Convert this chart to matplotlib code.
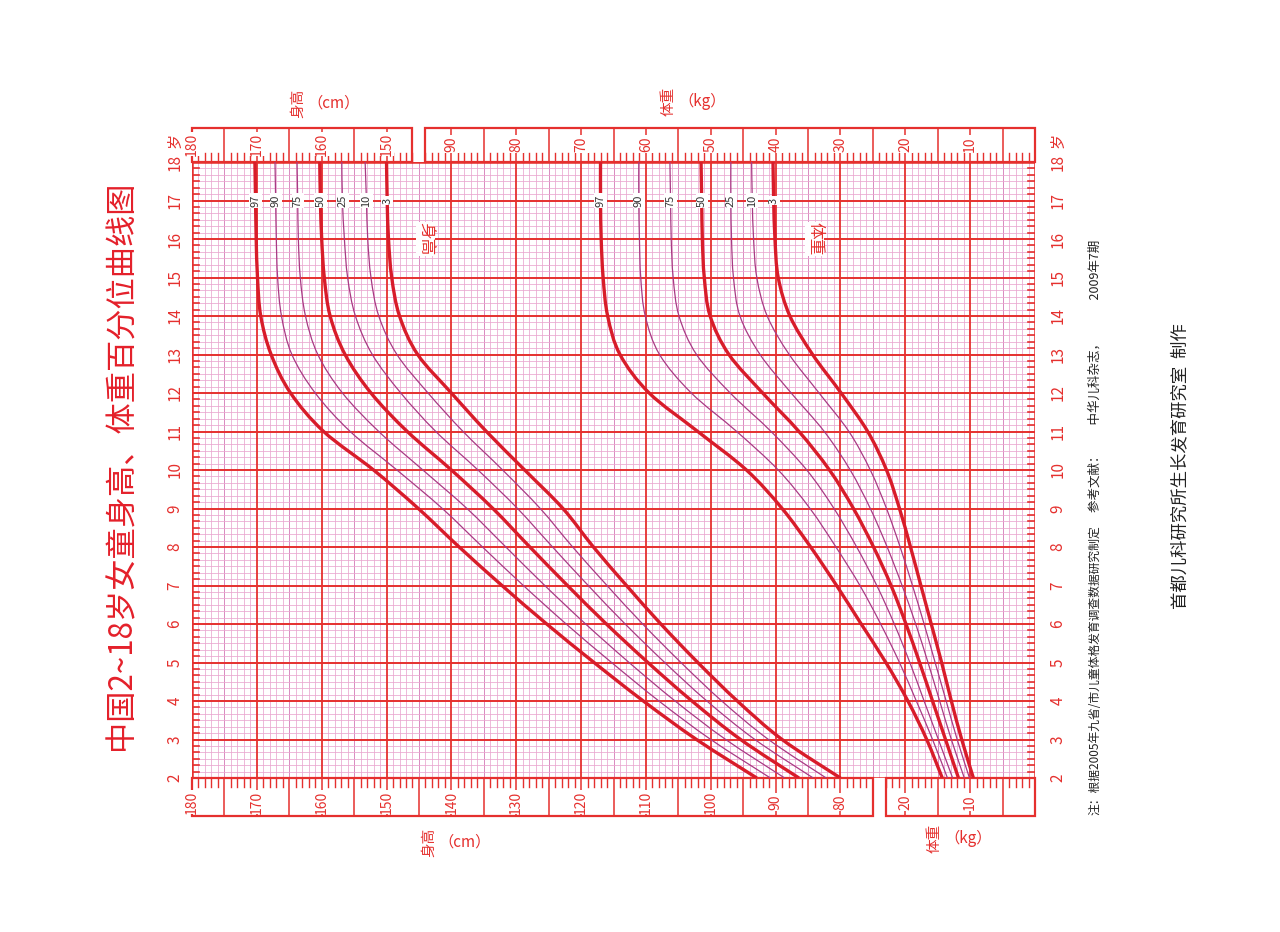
import numpy as np
import matplotlib.pyplot as plt
from matplotlib.path import Path
from matplotlib.patches import PathPatch, Rectangle

plt.rcParams['font.family'] = ['Noto Sans CJK SC', 'DejaVu Sans']

# ages on the vertical scale
ages = list(range(2, 19))
pct_names = ['3', '10', '25', '50', '75', '90', '97']

# height (cm), girls
height_p3 = [80.0, 89.0, 95.9, 102.0, 107.7, 113.0, 118.1, 122.8, 128.7, 134.6, 140.0, 145.2, 148.0, 149.2, 149.7, 149.9, 150.0]
height_p10 = [82.2, 91.1, 98.3, 104.6, 110.5, 116.0, 121.3, 126.3, 132.1, 138.2, 143.6, 148.4, 151.2, 152.4, 152.9, 153.1, 153.3]
height_p25 = [84.2, 93.2, 100.6, 107.1, 113.2, 118.9, 124.4, 129.8, 135.9, 142.4, 147.8, 152.2, 154.8, 156.0, 156.5, 156.8, 156.9]
height_p50 = [86.4, 95.4, 102.9, 109.7, 116.1, 122.1, 127.9, 133.6, 140.0, 146.8, 152.4, 156.4, 158.7, 159.6, 160.0, 160.2, 160.3]
height_p75 = [88.6, 97.7, 105.5, 112.6, 119.3, 125.6, 131.6, 137.6, 144.4, 151.2, 156.8, 160.6, 162.5, 163.3, 163.6, 163.7, 163.8]
height_p90 = [90.8, 100.0, 108.0, 115.3, 122.3, 128.9, 135.2, 141.4, 148.4, 155.6, 161.0, 164.6, 166.2, 166.8, 167.0, 167.1, 167.2]
height_p97 = [92.9, 102.2, 110.4, 118.0, 125.3, 132.2, 138.8, 145.1, 152.0, 159.7, 164.8, 167.8, 169.4, 169.9, 170.1, 170.2, 170.3]

# weight (kg), girls
weight_p3 = [9.5, 11.3, 12.9, 14.4, 16.0, 17.6, 19.2, 20.9, 22.9, 25.8, 29.9, 34.3, 37.8, 39.6, 40.1, 40.3, 40.4]
weight_p10 = [10.1, 12.0, 13.7, 15.4, 17.1, 18.9, 20.8, 22.9, 25.4, 28.7, 33.3, 37.9, 41.3, 42.9, 43.4, 43.6, 43.7]
weight_p25 = [10.9, 12.9, 14.7, 16.5, 18.4, 20.5, 22.8, 25.4, 28.5, 32.5, 37.6, 42.4, 45.5, 46.5, 46.8, 46.9, 46.9]
weight_p50 = [11.8, 13.8, 15.8, 17.8, 19.9, 22.2, 24.9, 28.0, 31.7, 36.4, 42.0, 47.2, 50.1, 51.0, 51.3, 51.4, 51.5]
weight_p75 = [12.7, 14.9, 17.1, 19.3, 21.7, 24.4, 27.5, 31.0, 35.2, 40.7, 47.0, 52.2, 54.9, 55.8, 56.1, 56.2, 56.3]
weight_p90 = [13.5, 15.8, 18.3, 20.9, 23.8, 27.0, 30.7, 34.7, 39.6, 46.0, 53.0, 57.9, 60.1, 60.8, 61.0, 61.1, 61.1]
weight_p97 = [14.3, 16.7, 19.6, 23.0, 26.8, 30.6, 34.6, 39.0, 44.5, 52.0, 59.5, 64.0, 65.9, 66.6, 66.9, 67.0, 67.0]

height_curves = [height_p3, height_p10, height_p25, height_p50, height_p75, height_p90, height_p97]
weight_curves = [weight_p3, weight_p10, weight_p25, weight_p50, weight_p75, weight_p90, weight_p97]

W_OFF = 50  # weight w shares the horizontal scale with height w + 50

RED = '#e5302e'
THICK = '#d81c2a'
THIN = '#a83a84'
MINOR = '#eaa6cf'
MID = '#d98ac0'


def smooth(xs, ys):
    # catmull-rom through the read points, drawn as bezier segments
    pts = np.column_stack([xs, ys])
    verts = [pts[0]]
    codes = [Path.MOVETO]
    n = len(pts)
    for i in range(n - 1):
        p0 = pts[max(i - 1, 0)]
        p1 = pts[i]
        p2 = pts[i + 1]
        p3 = pts[min(i + 2, n - 1)]
        verts += [p1 + (p2 - p0) / 6, p2 - (p3 - p1) / 6, p2]
        codes += [Path.CURVE4] * 3
    return Path(verts, codes)


fig = plt.figure(figsize=(12.8, 9.32), dpi=100)
L, R, T, B = 192, 1035, 162, 778
ax = fig.add_axes([L / 1280, 1 - B / 932, (R - L) / 1280, (B - T) / 932])
ax.set_xlim(180, 50)
ax.set_ylim(2, 18)
ax.axis('off')
axh = B - T
axw = R - L

# grid
for v in range(50, 181):
    if v % 10 == 0:
        continue
    ax.axvline(v, color=MID if v % 5 == 0 else MINOR, lw=0.7 if v % 5 == 0 else 0.55, zorder=1)
for k in range(1, 16 * 6):
    if k % 6:
        ax.axhline(2 + k / 6, color=MINOR, lw=0.55, zorder=1)
for v in range(60, 180, 10):
    ax.axvline(v, color=RED, lw=1.3, zorder=2)
for a in range(3, 18):
    ax.axhline(a, color=RED, lw=1.4, zorder=2)
ax.add_patch(Rectangle((180, 2), -130, 16, fill=False, ec=RED, lw=1.8, zorder=5))

# age ticks on the inner left and right edges
ty = ax.get_yaxis_transform()
for k in range(0, 16 * 6 + 1):
    a = 2 + k / 6
    ax.plot([0, 7 / axw], [a, a], color=RED, lw=1.2, transform=ty, zorder=5)
    ax.plot([1 - 7 / axw, 1], [a, a], color=RED, lw=1.2, transform=ty, zorder=5)
for a in ages:
    ax.text(-17 / axw, a, str(a), transform=ty, rotation=90, ha='center', va='center',
            fontsize=11, color=RED)
    ax.text(1 + 23 / axw, a, str(a), transform=ty, rotation=90, ha='center', va='center',
            fontsize=11, color=RED)
ax.text(-17 / axw, 18.55, '岁', transform=ty, rotation=90, ha='center', va='center', fontsize=11, color=RED)
ax.text(1 + 23 / axw, 18.55, '岁', transform=ty, rotation=90, ha='center', va='center', fontsize=11, color=RED)

# scale boxes above and below
tx = ax.get_xaxis_transform()
box_top = 34 / axh
box_bot = 38 / axh


def scale_box(x0, x1, y0, y1, labels, label_of, label_y, tick_from, tick_dir):
    ax.add_patch(Rectangle((x0, y0), x1 - x0, y1 - y0, transform=tx, fill=False,
                           ec=RED, lw=1.6, clip_on=False, zorder=5))
    lo, hi = sorted([x0, x1])
    for v in range(int(np.ceil(lo)), int(np.floor(hi)) + 1):
        if v % 5 == 0:
            ax.plot([v, v], [y0, y1], color=RED, lw=1.1, transform=tx, clip_on=False, zorder=5)
        else:
            ax.plot([v, v], [tick_from, tick_from + tick_dir * 9 / axh], color=RED, lw=1.0,
                    transform=tx, clip_on=False, zorder=5)
    for v in labels:
        ax.text(v, label_y, label_of(v), transform=tx, rotation=90, ha='center', va='center',
                fontsize=10, color=RED, clip_on=False, zorder=6,
                bbox=dict(facecolor='white', edgecolor='none', pad=0.6))


scale_box(180, 146, 1, 1 + box_top, range(180, 145, -10), str, 1 + 18 / axh, 1, 1)
scale_box(144, 50, 1, 1 + box_top, range(140, 59, -10), lambda v: str(v - W_OFF), 1 + 18 / axh, 1, 1)
scale_box(180, 75, -box_bot, 0, range(180, 79, -10), str, -24 / axh, 0, -1)
scale_box(73, 50, -box_bot, 0, [70, 60], lambda v: str(v - W_OFF), -24 / axh, 0, -1)

# percentile curves
for i, vals in enumerate(height_curves):
    heavy = pct_names[i] in ('3', '50', '97')
    ax.add_patch(PathPatch(smooth(vals, ages), fill=False, ec=THICK if heavy else THIN,
                           lw=2.4 if heavy else 0.9, zorder=7, capstyle='butt'))
    ax.text(vals[15], 17, pct_names[i], rotation=90, ha='center', va='center', fontsize=8,
            color='#333333', zorder=8, bbox=dict(facecolor='white', edgecolor='none', pad=0.8))
for i, vals in enumerate(weight_curves):
    heavy = pct_names[i] in ('3', '50', '97')
    xs = [w + W_OFF for w in vals]
    ax.add_patch(PathPatch(smooth(xs, ages), fill=False, ec=THICK if heavy else THIN,
                           lw=2.4 if heavy else 0.9, zorder=7, capstyle='butt'))
    ax.text(xs[15], 17, pct_names[i], rotation=90, ha='center', va='center', fontsize=8,
            color='#333333', zorder=8, bbox=dict(facecolor='white', edgecolor='none', pad=0.8))

ax.text(144.0, 16, '身高', rotation=-90, ha='center', va='center', fontsize=12, color=RED,
        zorder=8, bbox=dict(facecolor='white', edgecolor='none', pad=0.5))
ax.text(84.0, 16, '体重', rotation=-90, ha='center', va='center', fontsize=12, color=RED,
        zorder=8, bbox=dict(facecolor='white', edgecolor='none', pad=0.5))

# axis names
def axis_name(x, y, zh, unit):
    fig.text(x / 1280, 1 - y / 932, zh, rotation=90, ha='right', va='center', fontsize=10.5, color=RED)
    fig.text(x / 1280 + 0.002, 1 - y / 932, unit, ha='left', va='center', fontsize=11, color=RED)


axis_name(305, 103, '身高', '（cm）')
axis_name(676, 101, '体重', '（kg）')
axis_name(436, 842, '身高', '（cm）')
axis_name(942, 838, '体重', '（kg）')

# title and notes
fig.text(122 / 1280, 1 - 465 / 932, '中国2~18岁女童身高、体重百分位曲线图', rotation=90,
         ha='center', va='center', fontsize=22.5, color='#e4202a')
fig.text(1095 / 1280, 1 - 815 / 932, '注：根据2005年九省/市儿童体格发育调查数据研究制定', rotation=90,
         ha='center', va='bottom', fontsize=8.5, color='#222222')
fig.text(1095 / 1280, 1 - 512 / 932, '参考文献：\u3000\u3000中华儿科杂志，\u3000\u3000\u30002009年7期', rotation=90,
         ha='center', va='bottom', fontsize=9, color='#222222')
fig.text(1180 / 1280, 1 - 466 / 932, '首都儿科研究所生长发育研究室  制作', rotation=90,
         ha='center', va='center', fontsize=12.5, color='#222222')

fig.savefig('out.png', dpi=100, facecolor='white')
